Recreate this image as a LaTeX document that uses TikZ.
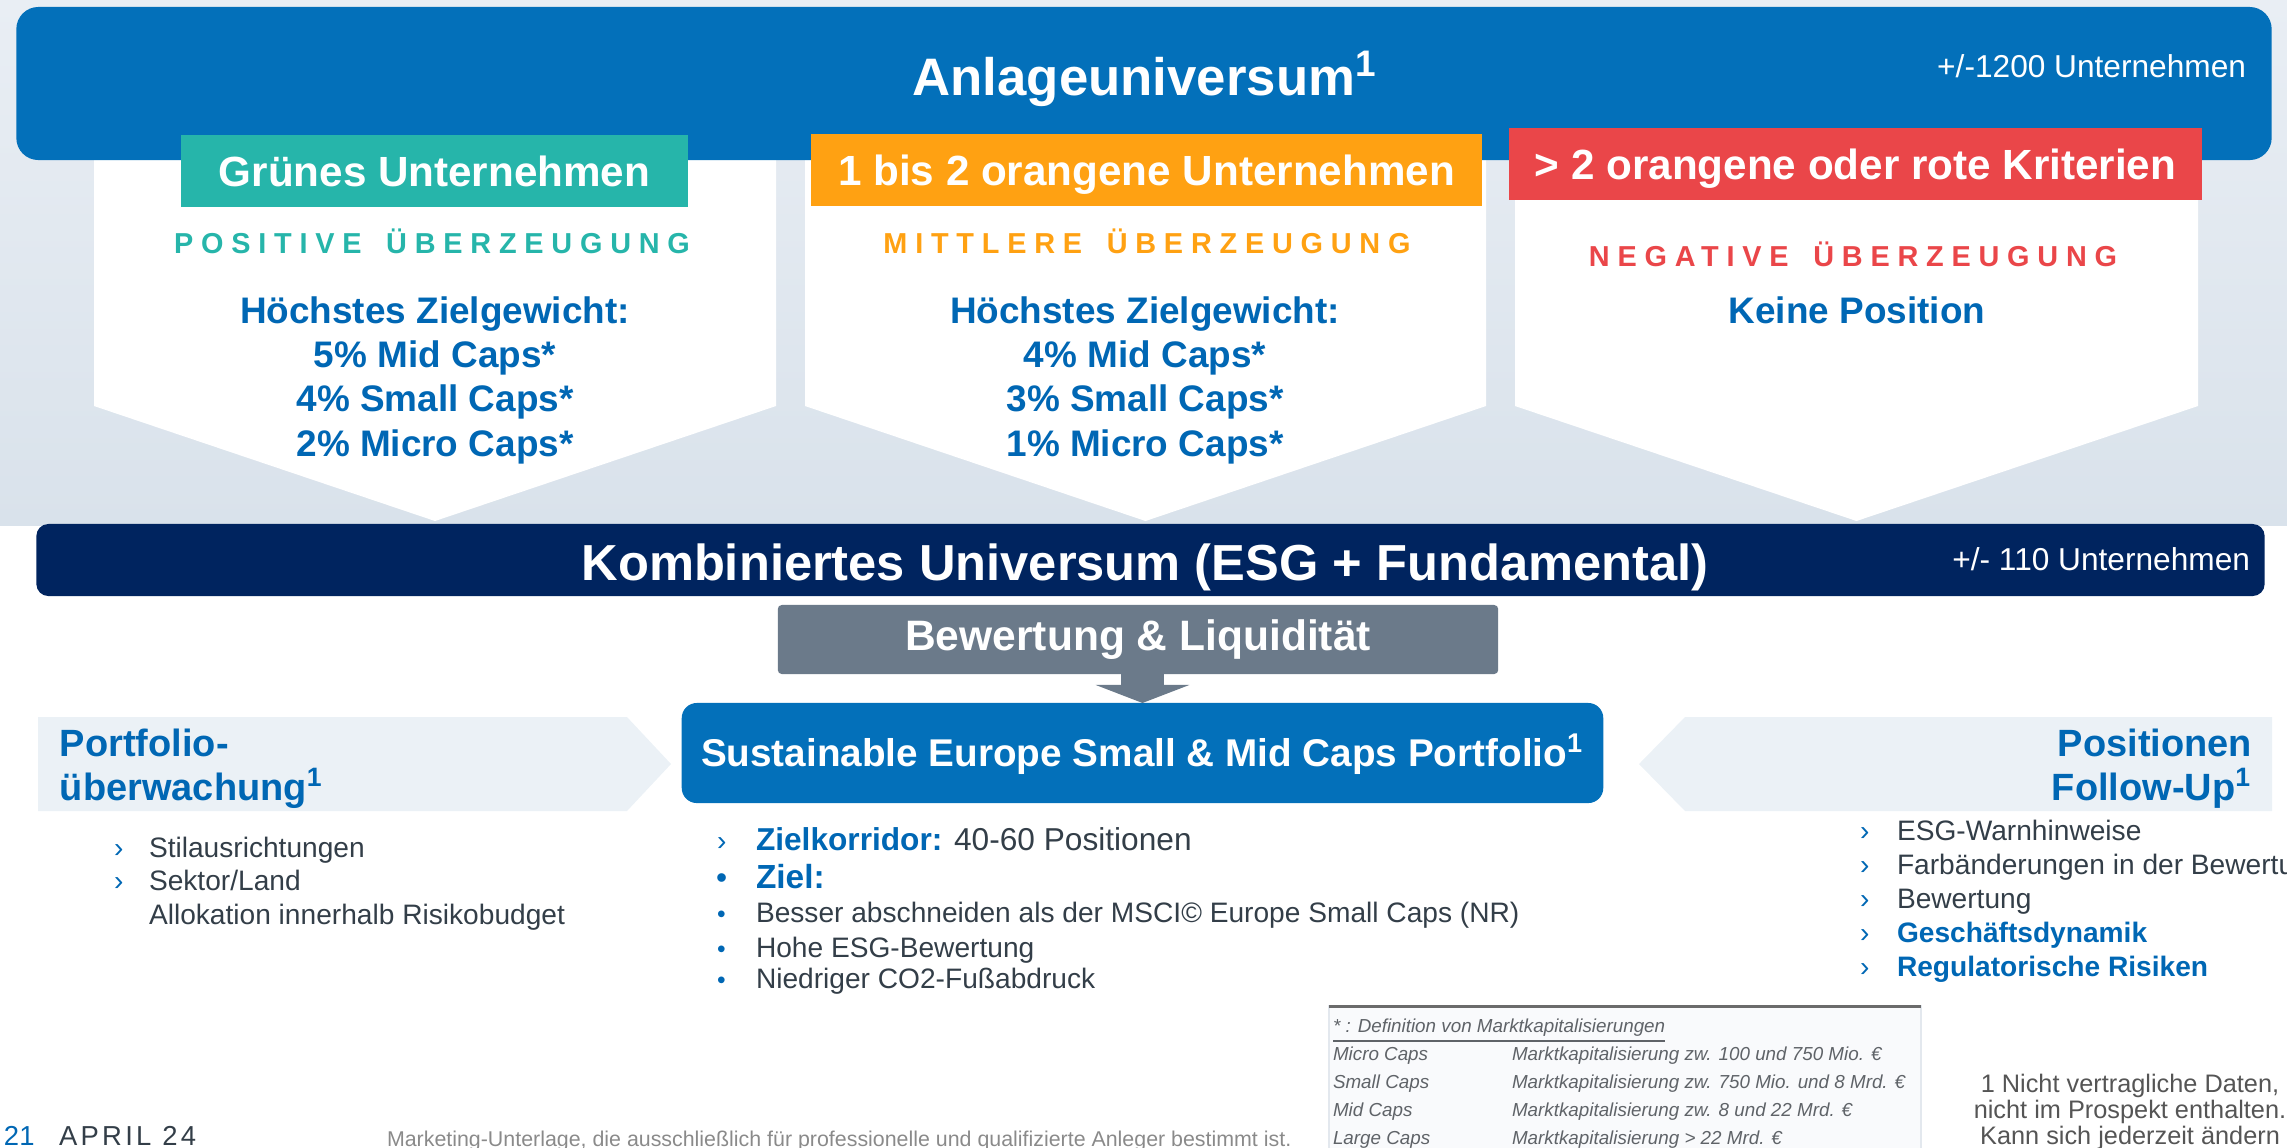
\documentclass[tikz,border=0pt]{standalone}
\usepackage{fontspec}
\setmainfont{Liberation Sans}
\newfontfamily\spacedfont[LetterSpace=27]{Liberation Sans}
\newfontfamily\datefont[LetterSpace=12]{Liberation Sans}
\usetikzlibrary{arrows.meta}

\definecolor{cbgtop}{HTML}{E9EEF4}
\definecolor{cbgbot}{HTML}{D9E2EB}
\definecolor{ctop}{HTML}{0370BA}
\definecolor{cnavy}{HTML}{00245F}
\definecolor{cgreen}{HTML}{26B5AA}
\definecolor{corange}{HTML}{FFA112}
\definecolor{cred}{HTML}{EA4649}
\definecolor{cblue}{HTML}{0067B4}
\definecolor{cslate}{HTML}{6B7A8A}
\definecolor{cpanel}{HTML}{EBF1F6}
\definecolor{ctext}{HTML}{333E48}
\definecolor{cgray}{HTML}{5F6368}
\definecolor{cfoot}{HTML}{555555}
\definecolor{clight}{HTML}{8A8A8A}
\definecolor{ctable}{HTML}{F9FAFC}
\definecolor{cborder}{HTML}{E3E8EE}
\definecolor{cline}{HTML}{6B6B6B}

\newcommand{\setfs}[2]{\fontsize{#1pt}{#2pt}\selectfont}

\begin{document}
\begin{tikzpicture}[x=0.01cm, y=-0.01cm,
    every node/.style={inner sep=0pt, outer sep=0pt},
    hdrbox/.style={minimum height=0.72cm, text=white, font=\bfseries\setfs{12}{14}, text height=8.6pt, text depth=0pt},
    conv/.style={font=\spacedfont\bfseries\setfs{8.2}{10}, anchor=base},
    weight/.style={text=cblue, font=\bfseries\setfs{10.5}{12.6}, align=center, anchor=base},
    bartext/.style={text=white, anchor=base},
    side/.style={text=cblue, font=\bfseries\setfs{10.8}{12.5}},
    item/.style={text=ctext, font=\setfs{8}{10}, anchor=base west},
    keyitem/.style={item, text=cblue, font=\bfseries\setfs{8}{10}},
    bul/.style={text=cblue, font=\setfs{8}{10}, anchor=base west},
    cell/.style={text=cgray, font=\itshape\setfs{5.35}{7}, anchor=base west}]
    \useasboundingbox (0,0) rectangle (2287,1147);

    % background of the upper half
    \shade[top color=cbgtop, bottom color=cbgbot] (0,0) rectangle (2287,525);
    \foreach \l/\r in {94/776, 805/1486, 1515/2198} {
        \fill[white] (\l,150) -- (\r,150) -- (\r,406) -- ({(\l+\r)/2},521) -- (\l,406) -- cycle;
    }

    % universe
    \node[fill=ctop, rounded corners=0.22cm, minimum width=22.54cm, minimum height=1.53cm] (anlage) at (1144,83.5) {};
    \node[bartext, font=\bfseries\setfs{15}{18}] (anlagetitle) at (1145,95) {Anlageuniversum\textsuperscript{1}};
    \node[bartext, font=\setfs{9}{11}, anchor=base east] (anlagecount) at (2246,77.5) {+/-1200 Unternehmen};

    \node[hdrbox, fill=cgreen, minimum width=5.07cm] (gruen) at (434.5,171) {Grünes Unternehmen};
    \node[hdrbox, fill=corange, minimum width=6.71cm] (orange) at (1146.5,170) {1 bis 2 orangene Unternehmen};
    \node[hdrbox, fill=cred, minimum width=6.93cm] (rot) at (1855.5,164) {> 2 orangene oder rote Kriterien};

    \node[conv, text=cgreen] (pos) at (432,253) {POSITIVE\hspace{7pt}ÜBERZEUGUNG};
    \node[conv, text=corange] (mittel) at (1147,253) {MITTLERE\hspace{7pt}ÜBERZEUGUNG};
    \node[conv, text=cred] (neg) at (1853,266) {NEGATIVE\hspace{7pt}ÜBERZEUGUNG};

    \node[weight] (w1) at (435,456) {Höchstes Zielgewicht:\\5\% Mid Caps*\\4\% Small Caps*\\2\% Micro Caps*};
    \node[weight] (w2) at (1145,456) {Höchstes Zielgewicht:\\4\% Mid Caps*\\3\% Small Caps*\\1\% Micro Caps*};
    \node[weight] (w3) at (1857,323) {Keine Position};

    % combined universe
    \node[fill=cnavy, rounded corners=0.12cm, minimum width=22.27cm, minimum height=0.72cm] (kombi) at (1150.5,560) {};
    \node[bartext, font=\bfseries\setfs{14.4}{17}] (kombititle) at (1145,580) {Kombiniertes Universum (ESG + Fundamental)};
    \node[bartext, font=\setfs{9}{11}, anchor=base east] (kombicount) at (2250,570) {+/- 110 Unternehmen};

    \node[fill=cslate, rounded corners=0.04cm, minimum width=7.2cm, minimum height=0.69cm, text=white, font=\bfseries\setfs{12.1}{14}, text height=8.7pt, text depth=2.6pt] (bewertung) at (1138,639.5) {Bewertung \& Liquidität};
    \node[fill=ctop, rounded corners=0.15cm, minimum width=9.21cm, minimum height=1cm, text=white, font=\bfseries\setfs{11}{13}, text height=7.9pt, text depth=0pt] (portfolio) at (1142.5,753) {Sustainable Europe Small \& Mid Caps Portfolio\textsuperscript{1}};
    \draw[-{Triangle[width=0.93cm, length=0.18cm]}, line width=0.42cm, cslate] (portfolio.north |- bewertung.south) -- (portfolio.north);

    % side panels
    \fill[cpanel] (38,717) -- (627,717) -- (671,764) -- (627,811) -- (38,811) -- cycle;
    \fill[cpanel] (1639,764) -- (1685,717) -- (2272,717) -- (2272,811) -- (1685,811) -- cycle;
    \node[side, align=left, anchor=base west] (ueberw) at (60,800) {Portfolio-\\überwachung\textsuperscript{1}};
    \node[side, align=right, anchor=base east] (followup) at (2252,800) {Positionen\\Follow-Up\textsuperscript{1}};

    % left list
    \node[bul] (lm1) at (114,857) {›};
    \node[item] (l1) at (149,857) {Stilausrichtungen};
    \node[bul] (lm2) at (114,890) {›};
    \node[item] (l2) at (149,890) {Sektor/Land};
    \node[item] (l3) at (149,924) {Allokation innerhalb Risikobudget};

    % middle list
    \node[bul] (mm1) at (717,850) {›};
    \node[item, font=\setfs{9}{11}] (m1) at (756,850) {\textcolor{cblue}{\bfseries Zielkorridor:} 40-60 Positionen};
    \node[bul, font=\setfs{9}{11}] (mm2) at (716,888) {•};
    \node[item, text=cblue, font=\bfseries\setfs{9.5}{11}] (m2) at (756,888) {Ziel:};
    \foreach \y/\t [count=\i from 3] in {922/Besser abschneiden als der MSCI© Europe Small Caps (NR), 957/Hohe ESG-Bewertung, 988/Niedriger CO2-Fußabdruck} {
        \node[bul, font=\setfs{7}{8}] (mm\i) at (717,\y) {•};
        \node[item] (m\i) at (756,\y) {\t};
    }

    % right list
    \foreach \y/\t [count=\i] in {840/ESG-Warnhinweise, 874/Farbänderungen in der Bewertung, 908/Bewertung} {
        \node[bul] (rm\i) at (1860,\y) {›};
        \node[item] (r\i) at (1897,\y) {\t};
    }
    \foreach \y/\t [count=\i from 4] in {942/Geschäftsdynamik, 976/Regulatorische Risiken} {
        \node[bul] (rm\i) at (1860,\y) {›};
        \node[keyitem] (r\i) at (1897,\y) {\t};
    }

    % cap definitions
    \draw[cborder, fill=ctable] (1329,1006) rectangle (1921,1160);
    \draw[cline, line width=0.03cm] (1329,1006) -- (1921,1006);
    \node[cell] (defhead) at (1333,1032) {\underline{* : Definition von Marktkapitalisierungen}};
    \foreach \y/\a/\b [count=\i] in {1060/Micro Caps/Marktkapitalisierung zw. 100 und 750 Mio. €,
        1088/Small Caps/Marktkapitalisierung zw. 750 Mio. und 8 Mrd. €,
        1116/Mid Caps/Marktkapitalisierung zw. 8 und 22 Mrd. €,
        1144/Large Caps/Marktkapitalisierung > 22 Mrd. €} {
        \node[cell] (cap\i) at (1333,\y) {\a};
        \node[cell] (def\i) at (1512,\y) {\b};
    }

    \node[text=cfoot, font=\setfs{7.2}{7.3}, align=center, anchor=base] (fussnote) at (2130,1144) {1 Nicht vertragliche Daten,\\nicht im Prospekt enthalten.\\Kann sich jederzeit ändern};

    % footer
    \node[anchor=base west, text=cblue, font=\setfs{7.8}{9}] (seite) at (4,1145) {21};
    \node[anchor=base west, text=ctext, font=\datefont\setfs{7.8}{9}] (datum) at (59,1145) {APRIL 24};
    \node[anchor=base west, text=clight, font=\setfs{6.08}{7}] (hinweis) at (387,1146) {Marketing-Unterlage, die ausschließlich für professionelle und qualifizierte Anleger bestimmt ist.};
\end{tikzpicture}
\end{document}
